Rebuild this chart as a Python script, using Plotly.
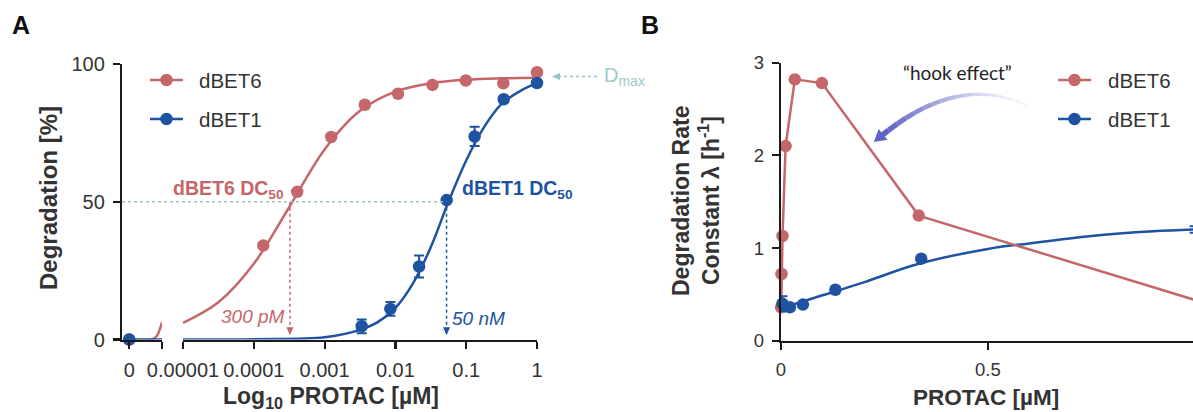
import math
import plotly.graph_objects as go

W, H = 1193, 412

RED = '#c4666a'
BLUE = '#1d53a0'
TEAL = '#93c6c6'
INK = '#333333'
AXC = '#1a1a1a'
FONT = 'Liberation Sans, Arial, sans-serif'

# ---------------- Panel A data ----------------
a_vehicle_conc = [0]
a_vehicle_dbet6 = [0]
a_vehicle_dbet1 = [0]

a_dbet6_conc = [0.000136, 0.00041, 0.00124, 0.0037, 0.0109, 0.0334, 0.0988, 0.334, 1.0]
a_dbet6_deg = [34.1, 53.6, 73.5, 85.2, 89.2, 92.4, 94.0, 93.0, 97.0]

a_dbet1_conc = [0.00334, 0.0085, 0.0216, 0.053, 0.1315, 0.339, 1.0]
a_dbet1_deg = [4.8, 11.1, 26.5, 50.6, 73.7, 87.2, 93.1]
a_dbet1_err = [2.5, 2.5, 4.0, 0.5, 3.5, 1.0, 1.0]

# fitted curves
a_fit6_conc = [1e-5, 3.16e-5, 1e-4, 3.16e-4, 1e-3, 3.16e-3, 1e-2, 3.16e-2, 0.1, 0.316, 1.0]
a_fit6_deg = [6.0, 13.5, 27.5, 48.0, 69.0, 83.0, 90.0, 93.0, 94.3, 94.8, 95.0]
a_fit1_conc = [1e-5, 1e-4, 1e-3, 3.16e-3, 5.62e-3, 1e-2, 1.78e-2, 3.16e-2, 5.62e-2,
               0.1, 0.178, 0.316, 0.562, 1.0]
a_fit1_deg = [0, 0.1, 0.8, 3.5, 6.3, 11.5, 20.5, 33.5, 50.0, 65.0, 77.0, 85.5, 90.0, 93.1]
# curve pieces in the "0" segment of the broken axis
a_seg0_fit6_x = [0, 0.6, 0.7, 0.76, 0.82]
a_seg0_fit6_y = [0, 0.2, 1.5, 3.5, 6.2]
a_seg0_fit1_x = [0, 0.82]
a_seg0_fit1_y = [0, 0]

a_dc50_dbet6 = 0.000324
a_dc50_dbet1 = 0.0528
a_dmax = 95.5

a_xtick_vals = [1e-5, 1e-4, 1e-3, 1e-2, 1e-1, 1]
a_xtick_text = ['0.00001', '0.0001', '0.001', '0.01', '0.1', '1']
a_ytick_vals = [0, 50, 100]

# ---------------- Panel B data ----------------
b_dbet6_conc = [0.00041, 0.00124, 0.0037, 0.0111, 0.0334, 0.0988, 0.333, 1.0]
b_dbet6_rate = [0.36, 0.72, 1.13, 2.10, 2.82, 2.78, 1.35, 0.44]

b_dbet1_conc = [0.00334, 0.0085, 0.0216, 0.053, 0.1315, 0.339, 1.0]
b_dbet1_rate = [0.40, 0.37, 0.36, 0.39, 0.55, 0.885, 1.20]
b_dbet1_err = [0.08, 0.02, 0.02, 0.0, 0.0, 0.0, 0.035]

b_fit1_conc = [0, 0.05, 0.1, 0.2, 0.333, 0.5, 0.6, 0.75, 0.9, 1.0]
b_fit1_rate = [0.35, 0.42, 0.49, 0.63, 0.83, 0.99, 1.05, 1.13, 1.18, 1.20]

b_xtick_vals = [0, 0.5, 1]
b_xtick_text = ['0', '0.5', '1']
b_ytick_vals = [0, 1, 2, 3]

series_names = ['dBET6', 'dBET1']
series_colors = [RED, BLUE]

# ---------------- layout geometry ----------------
X1DOM = [122 / W, 162 / W]
X2DOM = [183 / W, 537 / W]
YADOM = [(H - 339.5) / H, (H - 64) / H]
X3DOM = [781 / W, 1.0]
YBDOM = [(H - 340.7) / H, (H - 62.7) / H]
X1RANGE = [-0.18, 0.82]


def pxA(v):  # log axis value -> paper x
    return X2DOM[0] + (math.log10(v) + 5) / 5 * (X2DOM[1] - X2DOM[0])


def pyA(p):
    return YADOM[0] + p / 100 * (YADOM[1] - YADOM[0])


fig = go.Figure()

MS = 12.5
LW = 2.5


def sc(**kw):
    kw.setdefault('showlegend', False)
    kw.setdefault('cliponaxis', False)
    kw.setdefault('hoverinfo', 'skip')
    fig.add_trace(go.Scatter(**kw))


# --- Panel A: segment "0"
sc(x=a_seg0_fit6_x, y=a_seg0_fit6_y, mode='lines', line=dict(color=RED, width=LW, shape='spline'), xaxis='x', yaxis='y')
sc(x=a_seg0_fit1_x, y=a_seg0_fit1_y, mode='lines', line=dict(color=BLUE, width=LW), xaxis='x', yaxis='y')
sc(x=a_vehicle_conc, y=a_vehicle_dbet6, mode='markers', marker=dict(color=RED, size=MS), xaxis='x', yaxis='y')
sc(x=a_vehicle_conc, y=a_vehicle_dbet1, mode='markers', marker=dict(color=BLUE, size=MS), xaxis='x', yaxis='y')

# --- Panel A: log segment
sc(x=a_fit6_conc, y=a_fit6_deg, mode='lines', line=dict(color=RED, width=LW, shape='spline'), xaxis='x2', yaxis='y')
sc(x=a_fit1_conc, y=a_fit1_deg, mode='lines', line=dict(color=BLUE, width=LW, shape='spline'), xaxis='x2', yaxis='y')
sc(x=a_dbet6_conc, y=a_dbet6_deg, mode='markers', marker=dict(color=RED, size=MS), xaxis='x2', yaxis='y', name='dBET6')
sc(x=a_dbet1_conc, y=a_dbet1_deg, mode='markers', marker=dict(color=BLUE, size=MS), name='dBET1',
   error_y=dict(type='data', array=a_dbet1_err, color=BLUE, thickness=2, width=5), xaxis='x2', yaxis='y')

# --- Panel B
sc(x=b_fit1_conc, y=b_fit1_rate, mode='lines', line=dict(color=BLUE, width=LW, shape='spline'), xaxis='x3', yaxis='y3')
sc(x=b_dbet6_conc, y=b_dbet6_rate, mode='lines+markers', name='dBET6', line=dict(color=RED, width=LW),
   marker=dict(color=RED, size=MS), xaxis='x3', yaxis='y3')
sc(x=b_dbet1_conc, y=b_dbet1_rate, mode='markers', marker=dict(color=BLUE, size=MS), name='dBET1',
   error_y=dict(type='data', array=b_dbet1_err, color=BLUE, thickness=2, width=5), xaxis='x3', yaxis='y3')

axis_common = dict(showline=True, linecolor=AXC, linewidth=2.2, ticks='outside', ticklen=7, tickwidth=2.2,
                   tickcolor=AXC, showgrid=False, zeroline=False, ticklabelstandoff=4, tickangle=0,
                   automargin=False, fixedrange=True)
tickA = dict(size=20, color=INK, family=FONT)
tickB = dict(size=18.5, color=INK, family=FONT)

fig.update_layout(
    width=W, height=H, margin=dict(l=0, r=0, t=0, b=0, pad=0, autoexpand=False),
    paper_bgcolor='white', plot_bgcolor='white', showlegend=False, hovermode=False,
    xaxis=dict(domain=X1DOM, range=X1RANGE, tickvals=[0, 0.82], ticktext=['0', ''], anchor='y',
               tickfont=tickA, **axis_common),
    xaxis2=dict(domain=X2DOM, type='log', range=[-5, 0], tickvals=a_xtick_vals, ticktext=a_xtick_text,
                anchor='y', tickfont=tickA, **axis_common),
    yaxis=dict(domain=YADOM, range=[0, 100], tickvals=a_ytick_vals, anchor='x', tickfont=tickA, **axis_common),
    xaxis3=dict(domain=X3DOM, range=[0, 0.996], tickvals=b_xtick_vals, ticktext=b_xtick_text,
                anchor='y3', tickfont=tickB, **axis_common),
    yaxis3=dict(domain=YBDOM, range=[0, 3], tickvals=b_ytick_vals, anchor='x3', tickfont=tickB, **axis_common),
)

shapes = []
annots = []

# legends drawn as line + dot + label
LEG_FONT = dict(size=20.5, color=INK, family=FONT)
for x_line0, x_line1, x_text in [(150, 183, 197), (1058, 1091, 1106)]:
    for k, (name, col) in enumerate(zip(series_names, series_colors)):
        yy = (H - (80 + 39 * k)) / H
        shapes.append(dict(type='line', xref='paper', yref='paper', x0=x_line0 / W, x1=x_line1 / W, y0=yy, y1=yy,
                           line=dict(color=col, width=LW)))
        xc = (x_line0 + x_line1) / 2
        r = MS / 2
        shapes.append(dict(type='circle', xref='paper', yref='paper', x0=(xc - r) / W, x1=(xc + r) / W,
                           y0=yy - r / H, y1=yy + r / H, fillcolor=col, line=dict(width=0)))
        annots.append(dict(xref='paper', yref='paper', x=x_text / W, y=yy, xanchor='left', yanchor='middle',
                           text=name, showarrow=False, font=LEG_FONT))

# DC50 guide lines
y50 = pyA(50)
shapes.append(dict(type='line', xref='paper', yref='paper', x0=X1DOM[0], x1=pxA(a_dc50_dbet1), y0=y50, y1=y50,
                   line=dict(color=TEAL, width=1.5, dash='dot')))
for v, col in [(a_dc50_dbet6, RED), (a_dc50_dbet1, BLUE)]:
    xp = pxA(v)
    shapes.append(dict(type='line', xref='paper', yref='paper', x0=xp, x1=xp, y0=y50, y1=pyA(4),
                       line=dict(color=col, width=1.5, dash='dot')))
    tipy = pyA(1.5)
    hw = 3.5 / W
    hh = 8 / H
    shapes.append(dict(type='path', xref='paper', yref='paper',
                       path=f'M {xp - hw} {tipy + hh} L {xp + hw} {tipy + hh} L {xp} {tipy} Z',
                       fillcolor=col, line=dict(width=0)))

# Dmax arrow
ydm = pyA(a_dmax)
shapes.append(dict(type='line', xref='paper', yref='paper', x0=558 / W, x1=598 / W, y0=ydm, y1=ydm,
                   line=dict(color=TEAL, width=1.5, dash='dot')))
shapes.append(dict(type='path', xref='paper', yref='paper',
                   path=f'M {552 / W} {ydm} L {560 / W} {ydm + 3.5 / H} L {560 / W} {ydm - 3.5 / H} Z',
                   fillcolor=TEAL, line=dict(width=0)))
annots.append(dict(xref='paper', yref='paper', x=602 / W, y=ydm, xanchor='left', yanchor='middle',
                   text='D<sub>max</sub>', showarrow=False, font=dict(size=20, color='#9ccccc', family=FONT)))

# DC50 labels
annots.append(dict(xref='paper', yref='paper', x=pxA(10 ** -3.54), y=pyA(54.6), xanchor='right', yanchor='middle',
                   text='<b>dBET6 DC<sub>50</sub></b>', showarrow=False, font=dict(size=19.5, color=RED, family=FONT)))
annots.append(dict(xref='paper', yref='paper', x=pxA(10 ** -3.53), y=pyA(8.5), xanchor='right', yanchor='middle',
                   text='<i>300 pM</i>', showarrow=False, font=dict(size=19, color=RED, family=FONT)))
annots.append(dict(xref='paper', yref='paper', x=pxA(10 ** -1.09), y=pyA(54.6), xanchor='left', yanchor='middle',
                   text='<b>dBET1 DC<sub>50</sub></b>', showarrow=False, font=dict(size=19.5, color=BLUE, family=FONT)))
annots.append(dict(xref='paper', yref='paper', x=pxA(10 ** -1.23), y=pyA(7.8), xanchor='left', yanchor='middle',
                   text='<i>50 nM</i>', showarrow=False, font=dict(size=19, color=BLUE, family=FONT)))

# axis titles
annots.append(dict(xref='paper', yref='paper', x=331 / W, y=(H - 397) / H, xanchor='center', yanchor='middle',
                   text='<b>Log<sub>10</sub> PROTAC [µM]</b>', showarrow=False,
                   font=dict(size=23, color=INK, family=FONT)))
annots.append(dict(xref='paper', yref='paper', x=48 / W, y=(H - 198) / H, xanchor='center', yanchor='middle',
                   text='<b>Degradation [%]</b>', textangle=-90, showarrow=False,
                   font=dict(size=24, color=INK, family=FONT)))
annots.append(dict(xref='paper', yref='paper', x=986 / W, y=(H - 397) / H, xanchor='center', yanchor='middle',
                   text='<b>PROTAC [µM]</b>', showarrow=False, font=dict(size=22.5, color=INK, family=FONT)))
annots.append(dict(xref='paper', yref='paper', x=681 / W, y=(H - 201) / H, xanchor='center', yanchor='middle',
                   text='<b>Degradation Rate</b>', textangle=-90, showarrow=False,
                   font=dict(size=23, color=INK, family=FONT)))
annots.append(dict(xref='paper', yref='paper', x=709 / W, y=(H - 201) / H, xanchor='center', yanchor='middle',
                   text='<b>Constant λ [h<sup>-1</sup>]</b>', textangle=-90, showarrow=False,
                   font=dict(size=23, color=INK, family=FONT)))

# panel letters
annots.append(dict(xref='paper', yref='paper', x=10 / W, y=(H - 25) / H, xanchor='left', yanchor='middle',
                   text='<b>A</b>', showarrow=False, font=dict(size=25, color='#111', family=FONT)))
annots.append(dict(xref='paper', yref='paper', x=639 / W, y=(H - 25) / H, xanchor='left', yanchor='middle',
                   text='<b>B</b>', showarrow=False, font=dict(size=25, color='#111', family=FONT)))

# hook effect label + fading curved arrow
annots.append(dict(xref='paper', yref='paper', x=957 / W, y=(H - 72) / H, xanchor='center', yanchor='middle',
                   text='“hook effect”', showarrow=False, font=dict(size=19, color='#222', family='Lato, sans-serif')))
P0 = (1028.0, 106.0)
C = (958.0, 72.0)
P2 = (880.0, 137.0)
N = 18
pts = []
for i in range(N + 1):
    t = i / N
    bx = (1 - t) ** 2 * P0[0] + 2 * t * (1 - t) * C[0] + t ** 2 * P2[0]
    by = (1 - t) ** 2 * P0[1] + 2 * t * (1 - t) * C[1] + t ** 2 * P2[1]
    pts.append((bx, by))
for i in range(N):
    t = (i + 1) / N
    (ax_, ay_), (bx_, by_) = pts[i], pts[i + 1]
    shapes.append(dict(type='line', xref='paper', yref='paper', x0=ax_ / W, y0=(H - ay_) / H,
                       x1=bx_ / W, y1=(H - by_) / H,
                       line=dict(color='#5f63c4', width=2 + 3.5 * t), opacity=min(1.0, 0.03 + t ** 1.5)))
dx, dy = P2[0] - C[0], P2[1] - C[1]
L = math.hypot(dx, dy)
ux, uy = dx / L, dy / L
px_, py_ = -uy, ux
tip = (P2[0] + ux * 8, P2[1] + uy * 8)
b1 = (P2[0] - ux * 4 + px_ * 7, P2[1] - uy * 4 + py_ * 7)
b2 = (P2[0] - ux * 4 - px_ * 7, P2[1] - uy * 4 - py_ * 7)
shapes.append(dict(type='path', xref='paper', yref='paper',
                   path=f'M {tip[0] / W} {(H - tip[1]) / H} L {b1[0] / W} {(H - b1[1]) / H} L {b2[0] / W} {(H - b2[1]) / H} Z',
                   fillcolor='#5f63c4', line=dict(width=0)))

fig.update_layout(shapes=shapes, annotations=annots)
fig.write_html('out.html', config={'displayModeBar': False, 'staticPlot': True},
               post_script="document.body.style.margin='0';document.body.style.overflow='hidden';")
